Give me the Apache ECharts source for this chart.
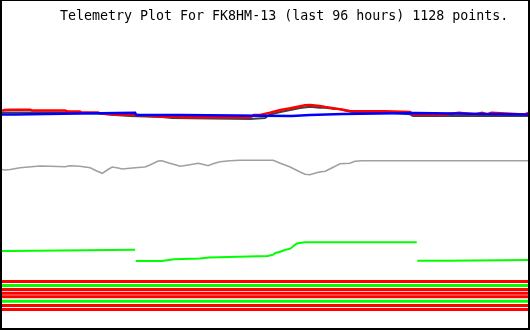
<!DOCTYPE html>
<html>
<head>
<meta charset="utf-8">
<script src="https://cdn.jsdelivr.net/npm/echarts@6/dist/echarts.min.js"></script>
<style>html,body{margin:0;padding:0;background:#fff}#c{width:530px;height:330px}</style>
</head>
<body>
<div id="c"></div>
<script>
// Hours since start of window (0..96) and channel level (plot units, top = 0)
const titleText = 'Telemetry Plot For FK8HM-13 (last 96 hours) 1128 points.';

const shadowX = [0,11,11.3,17.5,17.7,20.6,20.8,23.4,23.6,29.2,29.4,31,31.2,45.3,45.5,48,48.9,50.8,52.6,54.4,56.2,58,59,60.8,61.7,62.6,64.4,69.9,70.1,74.5,75,96];
const shadowY = [112.5,112.5,113.5,113.5,115,115,116,116,117,117,118,118,119,119,118,118,114.5,112,110,108,106.7,107.7,107.7,109,109,110.5,112.5,112.5,114.3,114.3,116,116];

const redX = [0,0.5,1.5,5.1,5.5,11.5,12,14.2,14.6,17.5,18,21.5,23.9,26,29.2,32.5,33,45.3,46,47.1,48.9,50.8,52.6,54.4,55.3,56.2,58,59,61.7,63.5,65.3,69.9,70.2,74.5,75,81,81.2,83.4,83.6,86.4,86.5,87.6,87.8,88.5,88.6,89.3,89.5,95.4,95.5,96];
const redY = [110.7,110,109.7,109.7,110.5,110.5,111.5,111.5,112.5,112.5,113.5,114.7,114.7,115.5,116.7,116.7,117.3,117.3,115,115,112.7,110,108.3,106.3,105.3,105,106,107,109.3,111,111.3,111.3,112,112,114.5,114.5,112.7,112.7,114.5,114.5,112.7,112.7,114.5,114.5,112.7,112.7,114.5,114.5,112.7,112.7];

const blueX = [0,2.4,2.5,11,11.2,24.3,24.5,32.5,32.7,52.9,53.1,56.2,56.4,62.2,62.4,75.4,75.6,96];
const blueY = [114.5,114.5,113.7,113.7,112.8,112.8,115,115,116,116,115,115,114,114,113,113,114.5,114.5];

const grayX = [0,0.5,1.5,3.3,6.9,8.8,11.5,12.4,14.2,16.1,17.3,18.3,19.2,20.1,21.2,21.9,24.3,26.1,27,28.5,29.2,30.3,31.6,32.5,34.3,35.8,37,37.6,38.5,39.8,41.6,43.4,49.5,50.8,52.6,54.4,55.3,56.2,57.7,59,59.9,61.7,63.5,64.4,65.7,96];
const grayY = [169.5,170,169.5,167.7,166,166.3,166.7,165.7,166.3,167.7,171,173.3,170,167,168,169,167.7,167,165,161,160.7,162.7,164.7,166.3,164.7,163.3,164.7,165.7,163.7,161.7,160.7,160.3,160.3,163.3,167,172,174.3,174.7,172.3,171.3,168.7,163.7,163.3,161.3,160.7,160.7];

const greenX = [0,1.5,1.6,24.3,24.35,24.4,29.2,29.4,30.1,30.3,31.4,31.6,36.1,36.3,37.8,38,48.5,49.5,49.9,50.8,51.6,52.6,53.8,55.3,75.7,75.75,75.8,81.2,81.4,96];
const greenY = [251,251,249.7,249.7,null,261,261,260.3,260.3,259.3,259.3,258.5,258.5,257.5,257.5,256.3,256,254.7,253,251.7,250,248.7,243.5,242.2,242.2,null,260.8,260.8,260,260];

const stripeLevels = [281.5,285.5,289.5,293.2,296.8,301.2,305.5,309.5];
const stripeColors = ['#ff0000','#00ff00','#ff0000','#ff0000','#ff0000','#00ff00','#ff0000','#ff0000'];

function pairs(xs, ys){ return xs.map((x,i)=>[x, ys[i] === null ? '-' : ys[i]]); }
function lineSeries(data, color, width){
  return {type:'line', data:data, showSymbol:false, symbol:'none', connectNulls:false,
    lineStyle:{color:color, width:width, cap:'butt', join:'miter'}, itemStyle:{color:color},
    silent:true, animation:false};
}

const series = [];
stripeLevels.forEach((v,i)=>{
  series.push(lineSeries([[0,v],[96,v]], stripeColors[i], 3));
});
series.push(lineSeries(pairs(grayX, grayY), '#a0a0a0', 1.6));
series.push(lineSeries(pairs(greenX, greenY), '#00ff00', 2));
series.push(lineSeries(pairs(shadowX, shadowY), '#404040', 2));
series.push(lineSeries(pairs(redX, redY), '#ff0000', 2.4));
series.push(lineSeries(pairs(blueX, blueY), '#0000ff', 2.4));

const chart = echarts.init(document.getElementById('c'), null, {renderer:'canvas'});
chart.setOption({
  animation:false,
  backgroundColor:'#ffffff',
  grid:{left:2, right:2, top:0, bottom:0, containLabel:false},
  xAxis:{type:'value', min:0, max:96, show:false},
  yAxis:{type:'value', min:0, max:330, inverse:true, show:false},
  series:series,
  graphic:[
    {type:'text', left:60, top:10, style:{text:titleText, font:'13.3px "DejaVu Sans Mono", monospace', fill:'#000'}},
    {type:'rect', shape:{x:0,y:0,width:2,height:330}, style:{fill:'#000'}},
    {type:'rect', shape:{x:528,y:0,width:2,height:330}, style:{fill:'#000'}},
    {type:'rect', shape:{x:0,y:0,width:530,height:1}, style:{fill:'#000'}},
    {type:'rect', shape:{x:0,y:328,width:530,height:2}, style:{fill:'#000'}}
  ]
});
</script>
</body>
</html>
